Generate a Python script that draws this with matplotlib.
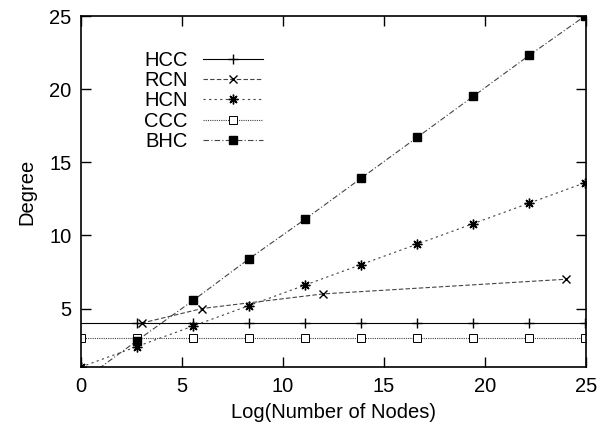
import matplotlib

matplotlib.use("Agg")
import matplotlib.pyplot as plt

plt.rcParams["font.family"] = ["Liberation Sans", "DejaVu Sans"]

# log(number of nodes) sample points
log_nodes = [0, 2.77, 5.55, 8.32, 11.09, 13.86, 16.64, 19.41, 22.18, 24.95]

hcc_deg = [4, 4, 4, 4, 4, 4, 4, 4, 4, 4]
rcn_x = [3, 6, 12, 24]
rcn_deg = [4, 5, 6, 7]
hcn_deg = [1, 2.4, 3.8, 5.2, 6.6, 8.0, 9.4, 10.8, 12.2, 13.6]
ccc_deg = [3, 3, 3, 3, 3, 3, 3, 3, 3, 3]
bhc_deg = [0, 2.8, 5.55, 8.4, 11.1, 13.9, 16.7, 19.5, 22.3, 25]

x_ticks = [0, 5, 10, 15, 20, 25]
y_ticks = [5, 10, 15, 20, 25]

fig = plt.figure(figsize=(6.05, 4.29), dpi=100)
ax = fig.add_axes([81 / 605, 1 - 367 / 429, (586 - 81) / 605, (367 - 16) / 429])

lw = 0.8
ax.plot(log_nodes, hcc_deg, color="black", lw=lw, linestyle="-",
        marker="+", markersize=7, markevery=list(range(1, len(log_nodes))), label="HCC")
ax.plot(rcn_x, rcn_deg, color="#444444", lw=lw, linestyle=(0, (4, 2)),
        marker="x", markersize=6, markeredgecolor="black", label="RCN")
ax.plot(log_nodes, hcn_deg, color="#444444", lw=lw, linestyle=(0, (2, 3)),
        marker=(8, 2, 0), markersize=7, markeredgecolor="black", label="HCN")
ax.plot(log_nodes, ccc_deg, color="#444444", lw=lw, linestyle=(0, (1, 1)),
        marker="s", markersize=5.5, markerfacecolor="white", markeredgecolor="black",
        markeredgewidth=0.7, label="CCC")
ax.plot(log_nodes, bhc_deg, color="#444444", lw=lw, linestyle=(0, (5, 2, 1, 2)),
        marker="s", markersize=5.5, markerfacecolor="black", markeredgecolor="black",
        label="BHC")

ax.set_xlim(0, 25)
ax.set_ylim(1, 25)
ax.set_xticks(x_ticks)
ax.set_yticks(y_ticks)
ax.tick_params(direction="in", length=7, width=1, top=True, right=True, labelsize=14.5, pad=7)
for side in ax.spines.values():
    side.set_linewidth(1.2)

ax.set_xlabel("Log(Number of Nodes)", fontsize=14.5, labelpad=5)
ax.set_ylabel("Degree", fontsize=14.5, labelpad=9)

ax.legend(loc="upper left", bbox_to_anchor=(144 / 605, 1 - 51 / 429),
          bbox_transform=fig.transFigure, frameon=False, markerfirst=False,
          fontsize=14.5, handlelength=3.0, handletextpad=0.75, labelspacing=0.06,
          borderpad=0, borderaxespad=0)

fig.savefig("out.png", dpi=100)
plt.close(fig)
